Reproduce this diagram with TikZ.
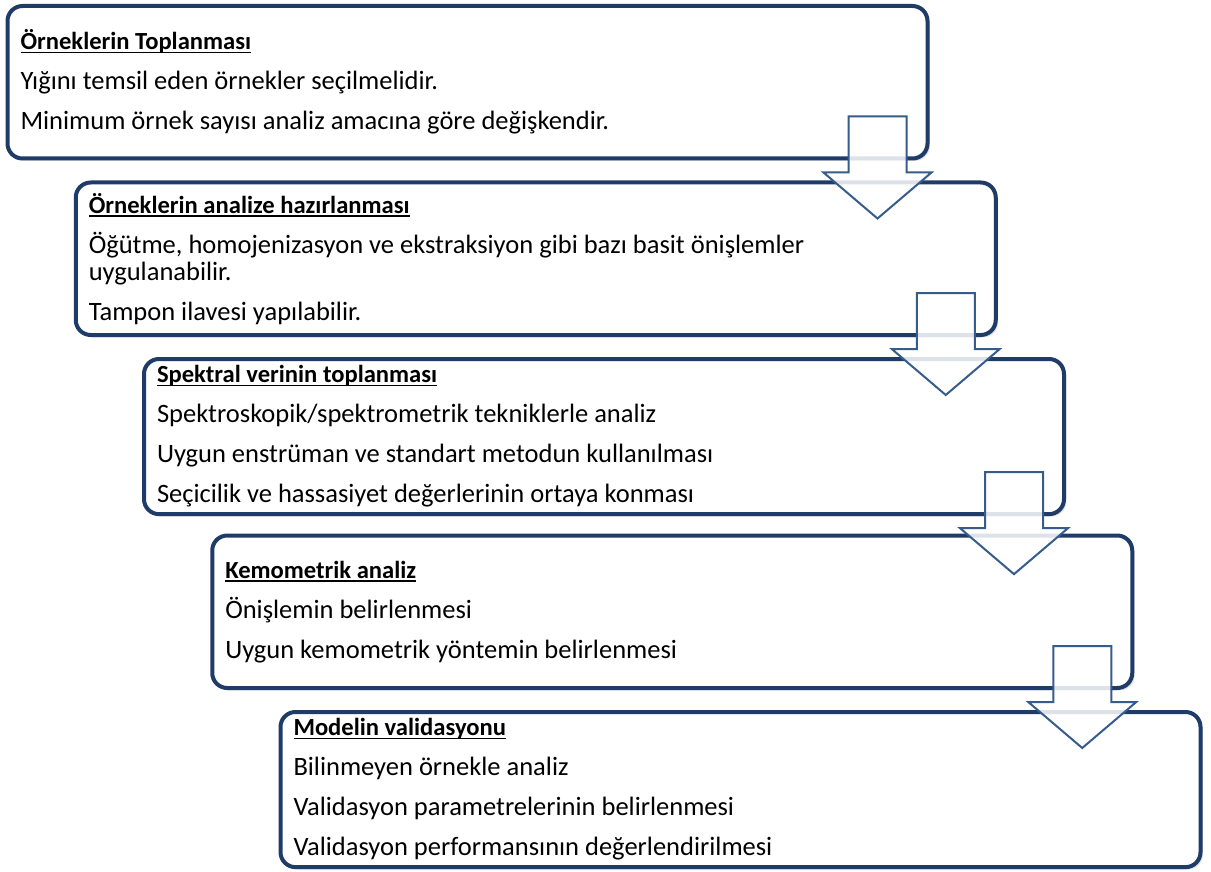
\documentclass[tikz,border=0pt]{standalone}
\usepackage{fontspec}
\setmainfont{Carlito}
\usetikzlibrary{calc,shadows}
\definecolor{boxblue}{RGB}{31,60,105}
\definecolor{arrowblue}{RGB}{54,92,140}
\tikzset{
  stepbox/.style={draw=boxblue,line width=2pt,rounded corners=7.5pt,fill=white,anchor=north west,
    text width=447pt,inner xsep=6.5pt,minimum height=76.25pt,outer sep=0pt,align=flush left,
    drop shadow={shadow xshift=1.2pt,shadow yshift=-1.2pt,opacity=0.25}},
  flowarrow/.style={draw=arrowblue,line width=1pt,fill=white,fill opacity=0.85,line join=miter}
}
\newcommand\stephead[1]{{\fontsize{12.3}{13.5}\selectfont\bfseries
  \setbox0\hbox{#1}\rlap{\rule[-1.7pt]{\wd0}{0.85pt}}\box0}}

\begin{document}
\begin{tikzpicture}[x=0.5pt,y=-0.5pt,font=\fontsize{13.25}{13.5}\selectfont]
  \useasboundingbox (0,0) rectangle (1211,872);
  % the five steps
  \node[stepbox] (s1) at (7.5,6) {\stephead{Örneklerin Toplanması}\\[6.5pt]
    Yığını temsil eden örnekler seçilmelidir.\\[6.5pt]
    Minimum örnek sayısı analiz amacına göre değişkendir.};
  \node[stepbox] (s2) at (75.75,182.5) {\stephead{Örneklerin analize hazırlanması}\\[6.5pt]
    Öğütme, homojenizasyon ve ekstraksiyon gibi bazı basit önişlemler\\
    uygulanabilir.\\[6.5pt]
    Tampon ilavesi yapılabilir.};
  \node[stepbox] (s3) at (144,359) {\stephead{Spektral verinin toplanması}\\[6.5pt]
    Spektroskopik/spektrometrik tekniklerle analiz\\[6.5pt]
    Uygun enstrüman ve standart metodun kullanılması\\[6.5pt]
    Seçicilik ve hassasiyet değerlerinin ortaya konması};
  \node[stepbox] (s4) at (212.25,535.5) {\stephead{Kemometrik analiz}\\[6.5pt]
    Önişlemin belirlenmesi\\[6.5pt]
    Uygun kemometrik yöntemin belirlenmesi};
  \node[stepbox] (s5) at (280.5,712) {\stephead{Modelin validasyonu}\\[6.5pt]
    Bilinmeyen örnekle analiz\\[6.5pt]
    Validasyon parametrelerinin belirlenmesi\\[6.5pt]
    Validasyon performansının değerlendirilmesi};
  % block arrows between the steps
  \foreach \b in {s1,s2,s3,s4}
    \draw[flowarrow] ($(\b.south east)+(-79,-42)$) -- ++(58,0) -- ++(0,56) -- ++(25,0)
      -- ++(-54,46) -- ++(-54,-46) -- ++(25,0) -- cycle;
\end{tikzpicture}
\end{document}
